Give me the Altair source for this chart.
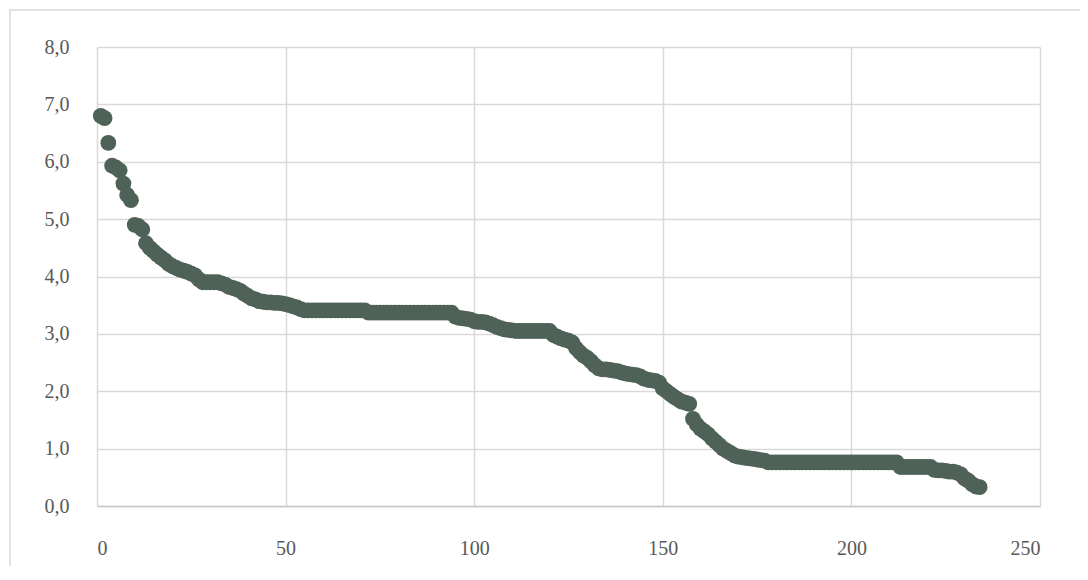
import altair as alt
import pandas as pd

x_values = list(range(1, 235))

y_values = [
    6.80, 6.76, 6.33, 5.93, 5.90, 5.85, 5.62, 5.42, 5.33, 4.90,
    4.88, 4.82, 4.58, 4.50, 4.44, 4.38, 4.33, 4.28, 4.22, 4.18,
    4.15, 4.12, 4.10, 4.08, 4.05, 4.02, 3.95, 3.90, 3.90, 3.90,
    3.90, 3.90, 3.88, 3.86, 3.82, 3.80, 3.78, 3.75, 3.70, 3.66,
    3.62, 3.60, 3.57, 3.56, 3.55, 3.55, 3.54, 3.54, 3.53, 3.52,
    3.50, 3.48, 3.46, 3.43,
    3.41, 3.41, 3.41, 3.41, 3.41, 3.41, 3.41, 3.41, 3.41, 3.41,
    3.41, 3.41, 3.41, 3.41, 3.41, 3.41, 3.41,
    3.37, 3.37, 3.37, 3.37, 3.37, 3.37, 3.37, 3.37, 3.37, 3.37,
    3.37, 3.37, 3.37, 3.37, 3.37, 3.37, 3.37, 3.37, 3.37, 3.37,
    3.37, 3.37, 3.37,
    3.30, 3.28, 3.27, 3.26, 3.25,
    3.22, 3.21, 3.21, 3.20, 3.18, 3.15,
    3.12, 3.10, 3.08, 3.07, 3.06, 3.05, 3.05,
    3.05, 3.05, 3.05, 3.05, 3.05, 3.05, 3.05, 3.05,
    2.98, 2.95, 2.92, 2.90, 2.88, 2.85,
    2.75, 2.68, 2.62, 2.58, 2.52, 2.45, 2.40,
    2.38, 2.38, 2.37, 2.36, 2.35, 2.33, 2.31, 2.30, 2.29, 2.28, 2.26,
    2.22, 2.20, 2.19, 2.18, 2.15,
    2.05, 2.00, 1.95, 1.90, 1.86, 1.82, 1.80, 1.78,
    1.52, 1.42, 1.35, 1.30, 1.25, 1.18, 1.12, 1.06, 1.00, 0.96,
    0.92, 0.88, 0.86,
    0.85, 0.84, 0.83, 0.82, 0.81, 0.80, 0.79,
    0.76, 0.76, 0.76, 0.76, 0.76, 0.76, 0.76, 0.76, 0.76, 0.76,
    0.76, 0.76, 0.76, 0.76, 0.76, 0.76, 0.76, 0.76, 0.76, 0.76,
    0.76, 0.76, 0.76, 0.76, 0.76, 0.76, 0.76, 0.76, 0.76, 0.76,
    0.76, 0.76, 0.76, 0.76, 0.76,
    0.68, 0.68, 0.68, 0.68, 0.68, 0.68, 0.68, 0.68, 0.68,
    0.63, 0.62, 0.62, 0.61, 0.60, 0.60, 0.58,
    0.55, 0.48, 0.44, 0.38, 0.34, 0.33,
]

x_ticks = [0, 50, 100, 150, 200, 250]
y_ticks = [0, 1, 2, 3, 4, 5, 6, 7, 8]

df = pd.DataFrame({"x": x_values, "y": y_values})

FONT = "Liberation Serif"
GRID = "#d9d9d9"
TEXT = "#595959"

points = alt.Chart(df).mark_circle(
    size=250, color="#4f6258", opacity=1
).encode(
    x=alt.X(
        "x:Q",
        scale=alt.Scale(domain=[0, 250], nice=False, zero=False),
        axis=alt.Axis(
            values=x_ticks, title=None, grid=True, gridColor=GRID, gridWidth=1.5,
            domain=True, domainColor="#c8c8c8", domainWidth=1.5, ticks=False,
            labelPadding=32, labelFont=FONT, labelFontSize=20, labelColor=TEXT,
        ),
    ),
    y=alt.Y(
        "y:Q",
        scale=alt.Scale(domain=[0, 8], nice=False),
        axis=alt.Axis(
            values=y_ticks, title=None, grid=True, gridColor=GRID, gridWidth=1.5,
            domain=False, ticks=False, labelPadding=28,
            labelFont=FONT, labelFontSize=20, labelColor=TEXT,
            labelExpr="replace(format(datum.value, '.1f'), '.', ',')",
        ),
    ),
)

frame = alt.Chart(pd.DataFrame({"d": [0]})).mark_rect(
    fill=None, stroke=GRID, strokeWidth=1.5, clip=False
).encode(
    x=alt.value(-87), x2=alt.value(1200), y=alt.value(-37), y2=alt.value(700)
)

chart = alt.layer(frame, points).properties(
    width=943, height=459,
    autosize=alt.AutoSizeParams(type="none"),
    padding={"left": 89, "top": 39, "right": 40, "bottom": 60},
).configure_view(stroke=None)

chart.save("out.html", embed_options={"renderer": "svg", "actions": False})
